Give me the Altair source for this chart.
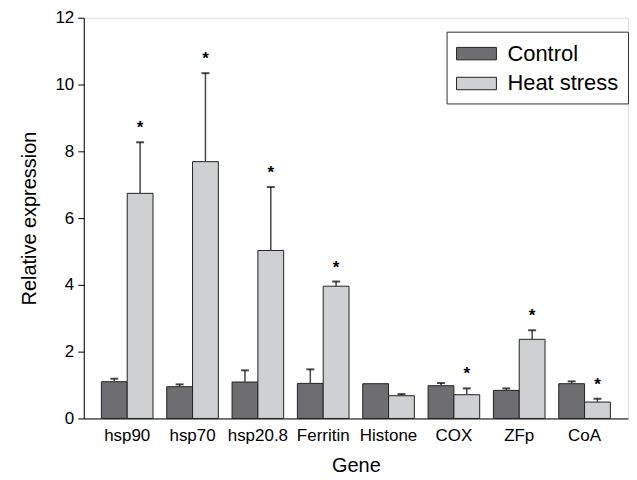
import altair as alt
import pandas as pd

genes = ["hsp90", "hsp70", "hsp20.8", "Ferritin", "Histone", "COX", "ZFp", "CoA"]
groups = ["Control", "Heat stress"]
control_mean = [1.10, 0.95, 1.09, 1.05, 1.04, 0.98, 0.84, 1.04]
control_err = [0.09, 0.07, 0.35, 0.42, 0.00, 0.08, 0.06, 0.07]
heat_mean = [6.74, 7.69, 5.03, 3.96, 0.68, 0.71, 2.37, 0.49]
heat_err = [1.53, 2.65, 1.90, 0.14, 0.05, 0.19, 0.27, 0.10]
heat_sig = [True, True, True, True, False, True, True, True]

rows = []
for i, g in enumerate(genes):
    rows.append({"gene": g, "group": "Control", "mean": control_mean[i],
                 "top": control_mean[i] + control_err[i], "err": control_err[i], "sig": False})
    rows.append({"gene": g, "group": "Heat stress", "mean": heat_mean[i],
                 "top": heat_mean[i] + heat_err[i], "err": heat_err[i], "sig": heat_sig[i]})
df = pd.DataFrame(rows)

FONT = "Liberation Sans"

x = alt.X("gene:N", sort=genes, title="Gene",
          scale=alt.Scale(paddingInner=0.21, paddingOuter=0.27),
          axis=alt.Axis(labelAngle=0, ticks=False, labelFontSize=17, titleFontSize=20,
                        labelPadding=9, titlePadding=12, labelColor="black", titleColor="black",
                        titleFontWeight="normal", domainColor="black"))
xo = alt.XOffset("group:N", sort=groups, scale=alt.Scale(paddingInner=0, paddingOuter=0))

base = alt.Chart(df)

bars = base.mark_bar(stroke="#222222", strokeWidth=1).encode(
    x=x, xOffset=xo,
    y=alt.Y("mean:Q", title="Relative expression",
            scale=alt.Scale(domain=[0, 12], nice=False),
            axis=alt.Axis(values=[0, 2, 4, 6, 8, 10, 12], grid=False, tickSize=6,
                          labelFontSize=17, titleFontSize=20, labelPadding=4, titlePadding=16,
                          labelColor="black", titleColor="black", titleFontWeight="normal",
                          domainColor="black", tickColor="black")),
    color=alt.Color("group:N", sort=groups,
                    scale=alt.Scale(domain=groups, range=["#6e6e72", "#cfd0d3"]),
                    legend=alt.Legend(title=None, orient="none", legendX=364, legendY=14,
                                      symbolType="M-1.6,-0.5H1.6V0.5H-1.6Z", symbolSize=625,
                                      symbolStrokeColor="#222222", symbolStrokeWidth=1,
                                      symbolOffset=8,
                                      labelFontSize=22, labelColor="black", labelOffset=18,
                                      rowPadding=6, padding=9, strokeColor="#333333",
                                      fillColor="white")),
)

ebase = base.transform_filter("datum.err > 0")
rules = ebase.mark_rule(color="#444444", strokeWidth=1.5).encode(
    x=x, xOffset=xo, y="mean:Q", y2="top:Q")
caps = ebase.mark_tick(color="black", size=8, thickness=2).encode(
    x=x, xOffset=xo, y="top:Q")
stars = base.transform_filter("datum.sig").mark_text(
    text="*", fontSize=17, fontWeight="bold", baseline="middle", dy=-14, color="black", font=FONT
).encode(x=x, xOffset=xo, y="top:Q")

chart = alt.layer(bars, rules, caps, stars).properties(
    width=546, height=402,
    padding={"left": 11, "top": 0, "right": 0, "bottom": 5},
).configure_view(stroke=None).configure(font=FONT)

chart.save("out.html", embed_options={"renderer": "svg", "actions": False})
